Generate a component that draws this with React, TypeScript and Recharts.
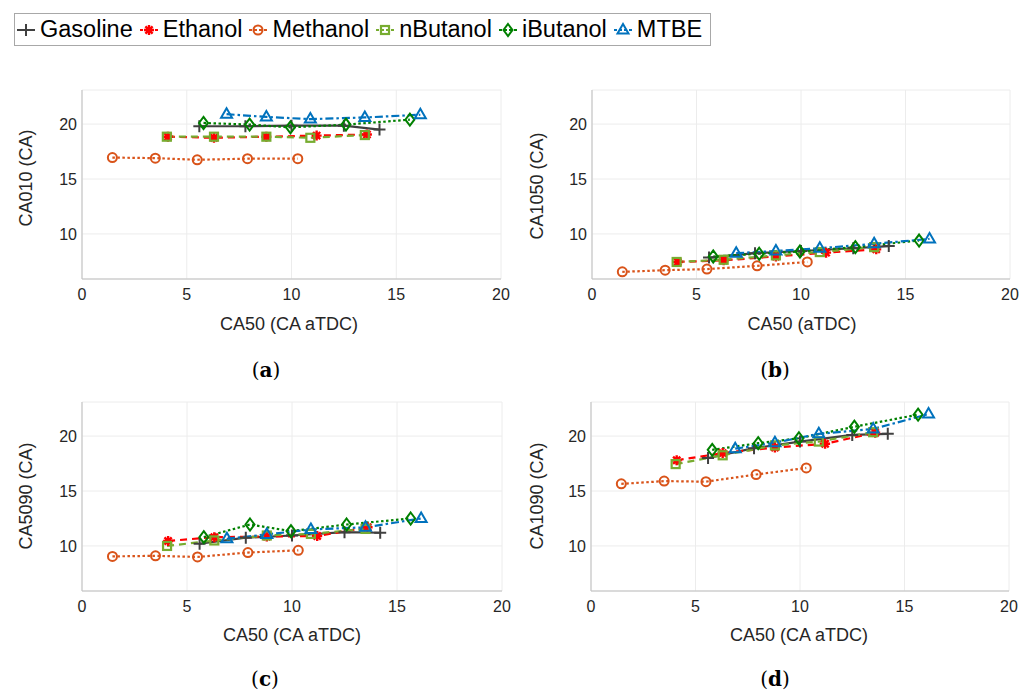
import { LineChart, Line, XAxis, YAxis, CartesianGrid } from "recharts";

const fuels = ["Gasoline", "Ethanol", "Methanol", "nButanol", "iButanol", "MTBE"];

// CA50 per fuel (x axis, shared by all four panels)
const ca50Gasoline = [5.6, 7.8, 10.0, 12.5, 14.2];
const ca50Ethanol = [4.1, 6.3, 8.8, 11.2, 13.6];
const ca50Methanol = [1.45, 3.5, 5.5, 7.9, 10.3];
const ca50NButanol = [4.05, 6.3, 8.8, 10.9, 13.5];
const ca50IButanol = [5.8, 8.0, 9.95, 12.6, 15.65];
const ca50Mtbe = [6.9, 8.8, 10.9, 13.5, 16.15];
const ca50 = [ca50Gasoline, ca50Ethanol, ca50Methanol, ca50NButanol, ca50IButanol, ca50Mtbe];

// durations, one row per fuel in the order of `fuels`
const ca010 = [
  [19.8, 19.8, 19.85, 19.85, 19.5],
  [18.85, 18.75, 18.85, 18.95, 19.05],
  [16.95, 16.9, 16.75, 16.85, 16.85],
  [18.85, 18.85, 18.85, 18.75, 19.0],
  [20.1, 19.95, 19.7, 19.95, 20.4],
  [20.9, 20.65, 20.45, 20.6, 20.85],
];
const ca1050 = [
  [7.85, 8.25, 8.45, 8.7, 8.9],
  [7.45, 7.6, 7.95, 8.3, 8.6],
  [6.55, 6.7, 6.8, 7.1, 7.45],
  [7.45, 7.65, 8.05, 8.35, 8.8],
  [7.95, 8.2, 8.4, 8.8, 9.4],
  [8.25, 8.45, 8.7, 9.1, 9.55],
];
const ca5090 = [
  [10.2, 10.75, 10.95, 11.25, 11.2],
  [10.45, 10.8, 10.85, 10.9, 11.7],
  [9.05, 9.1, 9.0, 9.4, 9.6],
  [10.0, 10.5, 10.95, 11.1, 11.55],
  [10.8, 11.95, 11.35, 11.95, 12.5],
  [10.65, 11.05, 11.5, 11.7, 12.5],
];
const ca1090 = [
  [18.0, 18.9, 19.5, 20.1, 20.2],
  [17.8, 18.45, 18.95, 19.3, 20.3],
  [15.65, 15.9, 15.85, 16.5, 17.1],
  [17.45, 18.25, 19.15, 19.5, 20.35],
  [18.75, 19.35, 19.8, 20.85, 21.95],
  [18.85, 19.4, 20.2, 20.65, 22.0],
];

const xTicks = [0, 5, 10, 15, 20];
const yTicks = [10, 15, 20];

const STYLES = [
  { color: "#404040", dash: undefined, marker: "plus" },
  { color: "#ff0000", dash: "7 5", marker: "star" },
  { color: "#d95319", dash: "2.5 2.5", marker: "circle" },
  { color: "#77ac30", dash: "7 5", marker: "square" },
  { color: "#008000", dash: "2.5 2.5", marker: "diamond" },
  { color: "#0072bd", dash: "8 3 2.5 3", marker: "triangle" },
];

const SANS = "'Liberation Sans', Arial, sans-serif";
const TEXT = "#262626";

function Marker({ kind, x, y, color }: { kind: string; x: number; y: number; color: string }) {
  switch (kind) {
    case "plus":
      return <path d={`M${x - 6},${y}H${x + 6}M${x},${y - 6}V${y + 6}`} stroke={color} strokeWidth={2} fill="none" />;
    case "star":
      return (
        <path
          d={`M${x - 5},${y}H${x + 5}M${x},${y - 5}V${y + 5}M${x - 3.6},${y - 3.6}L${x + 3.6},${y + 3.6}M${x - 3.6},${y + 3.6}L${x + 3.6},${y - 3.6}`}
          stroke={color}
          strokeWidth={2.4}
          fill="none"
        />
      );
    case "circle":
      return <circle cx={x} cy={y} r={4.5} stroke={color} strokeWidth={2} fill="none" />;
    case "square":
      return <rect x={x - 4} y={y - 4} width={8} height={8} stroke={color} strokeWidth={2.2} fill="none" />;
    case "diamond":
      return <path d={`M${x},${y - 6}L${x + 4.5},${y}L${x},${y + 6}L${x - 4.5},${y}Z`} stroke={color} strokeWidth={2} fill="none" />;
    default:
      return <path d={`M${x},${y - 6}L${x + 5.5},${y + 3.5}L${x - 5.5},${y + 3.5}Z`} stroke={color} strokeWidth={2} fill="none" />;
  }
}

type PanelProps = {
  values: number[][];
  left: number;
  top: number;
  right: number;
  yLabel: string;
  xLabel: string;
  yLabelPos: [number, number];
  xLabelPos: [number, number];
  caption: string;
  captionPos: [number, number];
};

function Panel({ values, left, top, right, yLabel, xLabel, yLabelPos, xLabelPos, caption, captionPos }: PanelProps) {
  return (
    <>
      <div style={{ position: "absolute", left, top }}>
        <LineChart width={520} height={230} margin={{ top: 10, right, left: 0, bottom: 0 }}>
          <CartesianGrid stroke="#ececec" horizontal vertical />
          <XAxis
            type="number"
            dataKey="x"
            domain={[0, 20]}
            ticks={xTicks}
            height={31}
            axisLine={{ stroke: "#bfbfbf" }}
            tickLine={false}
            tickSize={0}
            tickMargin={10}
            tick={{ fill: TEXT, fontSize: 16, fontFamily: SANS }}
          />
          <YAxis
            type="number"
            dataKey="y"
            domain={[5.9, 23.1]}
            ticks={yTicks}
            width={82}
            axisLine={{ stroke: "#bfbfbf" }}
            tickLine={false}
            tickSize={0}
            tickMargin={5}
            tick={{ fill: TEXT, fontSize: 16, fontFamily: SANS }}
          />
          {fuels.map((f, i) => {
            const s = STYLES[i];
            return (
              <Line
                key={f}
                name={f}
                data={ca50[i].map((x, j) => ({ x, y: values[i][j] }))}
                dataKey="y"
                type="linear"
                stroke={s.color}
                strokeWidth={2.2}
                strokeDasharray={s.dash}
                isAnimationActive={false}
                activeDot={false}
                dot={(p: any) => <Marker key={`${f}-${p.index}`} kind={s.marker} x={p.cx} y={p.cy} color={s.color} />}
              />
            );
          })}
        </LineChart>
      </div>
      <div
        style={{
          position: "absolute",
          left: yLabelPos[0],
          top: yLabelPos[1],
          transform: "translate(-50%, -50%) rotate(-90deg)",
          whiteSpace: "nowrap",
          fontFamily: SANS,
          fontSize: 18,
          color: TEXT,
        }}
      >
        {yLabel}
      </div>
      <div
        style={{
          position: "absolute",
          left: xLabelPos[0],
          top: xLabelPos[1],
          transform: "translate(-50%, -50%)",
          whiteSpace: "nowrap",
          fontFamily: SANS,
          fontSize: 18,
          color: TEXT,
        }}
      >
        {xLabel}
      </div>
      <div
        style={{
          position: "absolute",
          left: captionPos[0],
          top: captionPos[1],
          transform: "translate(-50%, -50%)",
          whiteSpace: "nowrap",
          fontFamily: "'DejaVu Serif', 'Liberation Serif', serif",
          fontSize: 20,
          lineHeight: "22px",
          color: "#000",
        }}
      >
        (<b>{caption}</b>)
      </div>
    </>
  );
}

function LegendIcon({ index }: { index: number }) {
  const s = STYLES[index];
  return (
    <svg width={18} height={20} style={{ display: "block" }}>
      <line x1={0} y1={10} x2={18} y2={10} stroke={s.color} strokeWidth={2} strokeDasharray={s.dash ? "3 2" : undefined} />
      <Marker kind={s.marker} x={9} y={10} color={s.color} />
    </svg>
  );
}

export default function App() {
  return (
    <div style={{ position: "absolute", left: 0, top: 0, width: 1032, height: 693, background: "#fff" }}>
      <div
        style={{
          position: "absolute",
          left: 14,
          top: 13,
          width: 697,
          height: 33,
          border: "1px solid #a8a8a8",
          display: "flex",
          alignItems: "center",
          paddingLeft: 2,
          boxSizing: "border-box",
          fontFamily: SANS,
          fontSize: 23.5,
          color: "#000",
          whiteSpace: "nowrap",
        }}
      >
        {fuels.map((f, i) => (
          <div key={f} style={{ display: "flex", alignItems: "center", marginRight: 7 }}>
            <LegendIcon index={i} />
            <span style={{ marginLeft: 5 }}>{f}</span>
          </div>
        ))}
      </div>

      <Panel values={ca010} left={0} top={80} right={19} yLabel="CA010 (CA)" xLabel="CA50 (CA aTDC)"
        yLabelPos={[26, 178]} xLabelPos={[289, 324]} caption="a" captionPos={[266, 370]} />
      <Panel values={ca1050} left={510} top={80} right={20} yLabel="CA1050 (CA)" xLabel="CA50 (aTDC)"
        yLabelPos={[537, 186]} xLabelPos={[802, 324]} caption="b" captionPos={[775, 370]} />
      <Panel values={ca5090} left={0} top={392} right={18} yLabel="CA5090 (CA)" xLabel="CA50 (CA aTDC)"
        yLabelPos={[26, 496]} xLabelPos={[292, 635]} caption="c" captionPos={[265, 679]} />
      <Panel values={ca1090} left={509} top={392} right={20} yLabel="CA1090 (CA)" xLabel="CA50 (CA aTDC)"
        yLabelPos={[537, 496]} xLabelPos={[799, 635]} caption="d" captionPos={[775, 679]} />
    </div>
  );
}
